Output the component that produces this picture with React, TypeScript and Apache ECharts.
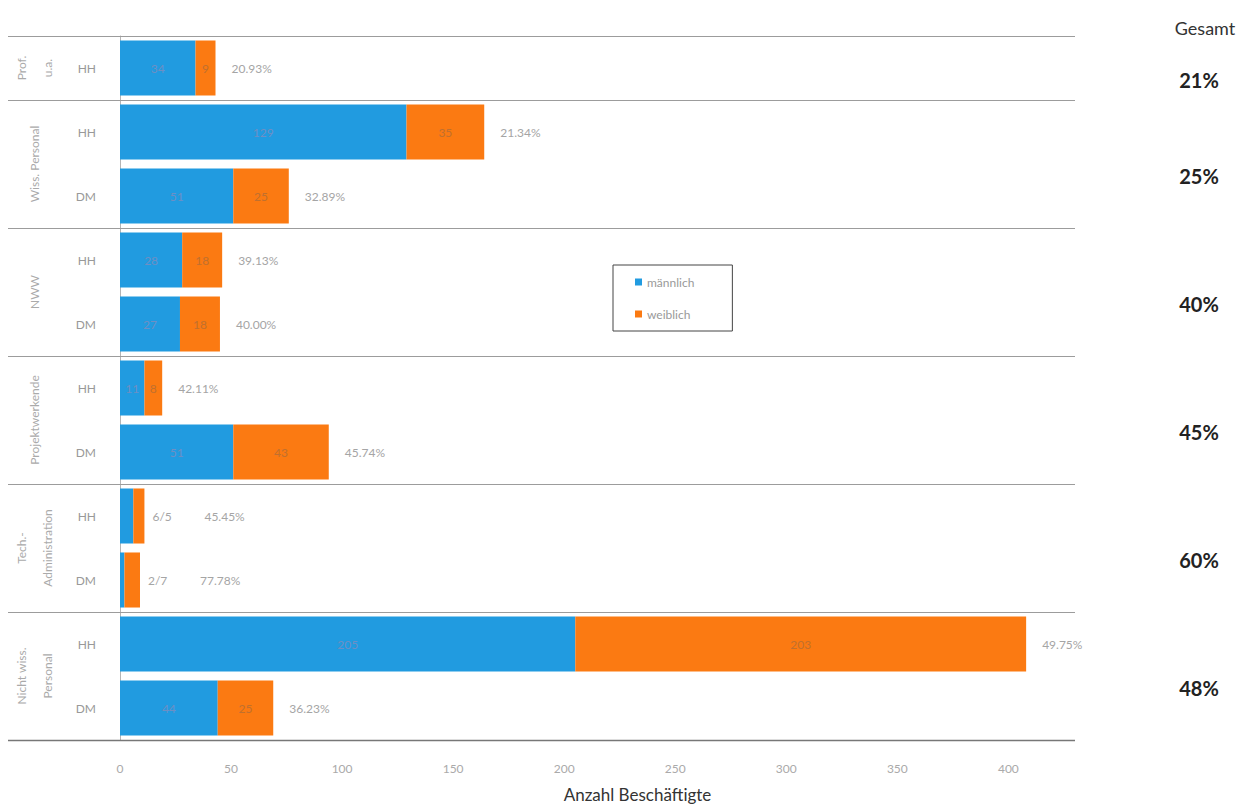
import React, { useEffect, useRef } from "react";
import * as echarts from "echarts";

const rowLabels = ["HH", "HH", "DM", "HH", "DM", "HH", "DM", "HH", "DM", "HH", "DM"];
const maleValues = [34, 129, 51, 28, 27, 11, 51, 6, 2, 205, 44];
const femaleValues = [9, 35, 25, 18, 18, 8, 43, 5, 7, 203, 25];
const outsideCountRows = [7, 8]; // rows whose counts are shown outside the bar
const groupNames = ["Prof.\nu.a.", "Wiss. Personal", "NWW", "Projektwerkende", "Tech.-\nAdministration", "Nicht wiss.\nPersonal"];
const groupSizes = [1, 2, 2, 2, 2, 2];
const gesamtLabels = ["21%", "25%", "40%", "45%", "60%", "48%"];
const lastTick = 400;
const axisMax = 430;

const BLUE = "#219be0";
const ORANGE = "#fb7a12";
const FONT = "Lato, 'Open Sans', sans-serif";

export default function App() {
  const ref = useRef<HTMLDivElement>(null);
  useEffect(() => {
    if (!ref.current) return;
    const chart = echarts.init(ref.current, null, { renderer: "svg" });
    const pct = (i: number) => ((femaleValues[i] / (maleValues[i] + femaleValues[i])) * 100).toFixed(2) + "%";
    const option: any = {
      animation: false,
      textStyle: { fontFamily: FONT },
      grid: { left: 120, top: 36, width: 955, height: 704, containLabel: false, outerBoundsMode: "none" },
      legend: {
        orient: "vertical",
        left: 613,
        top: 265,
        borderColor: "#444",
        borderWidth: 1,
        padding: [11, 38, 11, 22],
        itemGap: 20,
        icon: "rect",
        itemWidth: 7,
        itemHeight: 7,
        textStyle: { color: "#999", fontSize: 12, fontFamily: FONT },
        data: ["männlich", "weiblich"],
      },
      xAxis: {
        type: "value",
        min: 0,
        max: axisMax,
        interval: 50,
        axisLine: { show: false },
        axisTick: { show: false },
        splitLine: { show: false },
        axisLabel: {
          color: "#aaa",
          fontSize: 12,
          margin: 22,
          formatter: (v: number) => (v > lastTick ? "" : String(v)),
        },
        name: "Anzahl Beschäftigte",
        nameLocation: "middle",
        nameGap: 46,
        nameTextStyle: { color: "#333", fontSize: 17, padding: [0, 0, 0, 80] },
      },
      yAxis: {
        type: "category",
        inverse: true,
        data: rowLabels,
        axisLine: { show: true, lineStyle: { color: "#b5b5b5" } },
        axisTick: { show: false },
        axisLabel: { color: "#999", fontSize: 12, margin: 24 },
      },
      series: [
        {
          name: "männlich",
          type: "bar",
          stack: "a",
          barCategoryGap: "14%",
          itemStyle: { color: BLUE },
          label: { show: true, position: "inside", color: "#6d8fc4", fontSize: 12 },
          data: maleValues.map((v, i) =>
            outsideCountRows.includes(i) ? { value: v, label: { show: false } } : v
          ),
        },
        {
          name: "weiblich",
          type: "bar",
          stack: "a",
          itemStyle: { color: ORANGE },
          label: { show: true, position: "inside", color: "#c0702e", fontSize: 12 },
          data: femaleValues.map((v, i) =>
            outsideCountRows.includes(i) ? { value: v, label: { show: false } } : v
          ),
        },
        {
          name: "pct",
          type: "bar",
          stack: "a",
          itemStyle: { color: "transparent" },
          silent: true,
          label: {
            show: true,
            position: "insideLeft",
            distance: 0,
            color: "#a5a5a5",
            fontSize: 12,
            formatter: (p: any) =>
              outsideCountRows.includes(p.dataIndex)
                ? `{a|${maleValues[p.dataIndex]}/${femaleValues[p.dataIndex]}}{b|${pct(p.dataIndex)}}`
                : `{s|}${pct(p.dataIndex)}`,
            rich: {
              a: { width: 52, color: "#a5a5a5", fontSize: 12, padding: [0, 0, 0, 8] },
              b: { color: "#a5a5a5", fontSize: 12 },
              s: { width: 16 },
            },
          },
          data: maleValues.map(() => 0.0001),
        },
      ],
    };
    chart.setOption(option);

    const yOf = (i: number) => (chart.convertToPixel({ gridIndex: 0 }, [0, i]) as number[])[1];
    const half = (yOf(1) - yOf(0)) / 2;
    const boundaries: number[] = [0];
    groupSizes.forEach((s) => boundaries.push(boundaries[boundaries.length - 1] + s));
    const by = (b: number) => (b < rowLabels.length ? yOf(b) - half : yOf(rowLabels.length - 1) + half);
    const graphics: any[] = [];
    boundaries.forEach((b, k) => {
      const y = Math.round(by(b)) + 0.5;
      const last = k === boundaries.length - 1;
      graphics.push({
        type: "line",
        shape: { x1: 8, y1: y, x2: 1075, y2: y },
        style: { stroke: last ? "#777" : "#9c9c9c", lineWidth: last ? 1.5 : 1 },
        z: 5,
      });
    });
    groupNames.forEach((name, g) => {
      const y0 = by(boundaries[g]);
      const y1 = by(boundaries[g + 1]);
      const cy = (y0 + y1) / 2;
      graphics.push({
        type: "text",
        x: 34,
        y: cy,
        rotation: Math.PI / 2,
        style: {
          text: name,
          fill: "#aaa",
          fontSize: 12,
          fontFamily: FONT,
          align: "center",
          verticalAlign: "middle",
          lineHeight: 26,
        },
      });
      graphics.push({
        type: "text",
        x: 1199,
        y: cy + 12,
        style: {
          text: gesamtLabels[g],
          fill: "#222",
          fontSize: 20,
          fontWeight: "bold",
          fontFamily: FONT,
          align: "center",
          verticalAlign: "middle",
        },
      });
    });
    graphics.push({
      type: "text",
      x: 1205,
      y: 28,
      style: {
        text: "Gesamt",
        fill: "#333",
        fontSize: 18,
        fontFamily: FONT,
        align: "center",
        verticalAlign: "middle",
      },
    });
    chart.setOption({ graphic: graphics });

    return () => chart.dispose();
  }, []);
  return <div ref={ref} style={{ position: "fixed", left: 0, top: 0, width: 1253, height: 808, background: "#fff" }} />;
}
